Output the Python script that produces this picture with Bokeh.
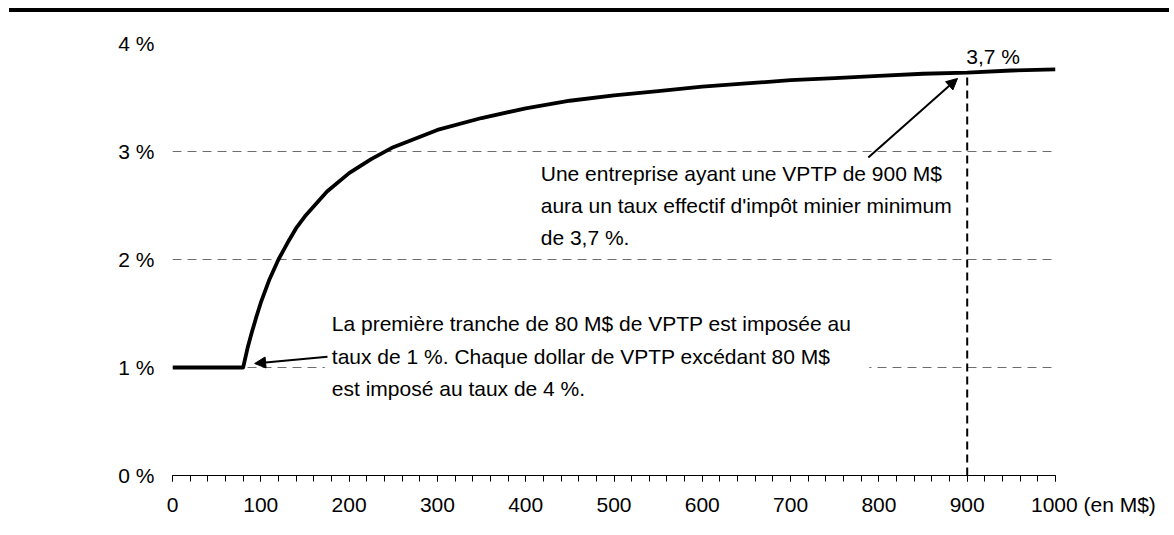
from bokeh.plotting import figure
from bokeh.models import (Range1d, FixedTicker, Label, Arrow, NormalHead, Div, Column)
from bokeh.embed import file_html
from bokeh.resources import INLINE

# Data: VPTP (M$) vs effective minimum mining-tax rate (%)
vptp = [0, 80, 85, 90, 95, 100, 110, 120, 130, 140, 150, 175, 200, 225, 250,
        300, 350, 400, 450, 500, 550, 600, 650, 700, 750, 800, 850, 900, 950, 1000]
taux = [1.00, 1.00, 1.18, 1.33, 1.47, 1.60, 1.82, 2.00, 2.15, 2.29, 2.40, 2.63, 2.80,
        2.93, 3.04, 3.20, 3.31, 3.40, 3.47, 3.52, 3.56, 3.60, 3.63, 3.66, 3.68,
        3.70, 3.72, 3.73, 3.75, 3.76]
x_ticks = [0, 100, 200, 300, 400, 500, 600, 700, 800, 900, 1000]
x_minor = list(range(0, 1001, 20))
y_ticks = [0, 1, 2, 3, 4]
y_labels = {0: "0 %", 1: "1 %", 2: "2 %", 3: "3 %", 4: "4 %"}
unit_label = "(en M$)"
x_labels = {1000: "\u00a0" * 13 + "1000 " + unit_label}
point_x = 900
point_y = taux[vptp.index(900)]
point_label = "3,7 %"
note_low = ("La première tranche de 80 M$ de VPTP est imposée au\n"
            "taux de 1 %. Chaque dollar de VPTP excédant 80 M$\n"
            "est imposé au taux de 4 %.")
note_high = ("Une entreprise ayant une VPTP de 900 M$\n"
             "aura un taux effectif d'impôt minier minimum\n"
             "de 3,7 %.")

FONT = "Liberation Sans"
FS = "21px"

p = figure(width=1166, height=515, output_backend="svg", toolbar_location=None,
           x_range=Range1d(0, 1000), y_range=Range1d(0, 4),
           min_border_left=172, min_border_right=111,
           min_border_top=31, min_border_bottom=52)
p.outline_line_color = None
p.background_fill_color = "white"
p.border_fill_color = "white"

# grid
p.xgrid.visible = False
p.ygrid.ticker = FixedTicker(ticks=[1, 2, 3, 4])
p.ygrid.grid_line_color = "#6e6e6e"
p.ygrid.grid_line_dash = "9 6"
p.ygrid.grid_line_width = 1

# x axis
p.xaxis.ticker = FixedTicker(ticks=x_ticks, minor_ticks=x_minor)
p.xaxis.major_label_overrides = x_labels
p.xaxis.axis_line_color = "black"
p.xaxis.major_tick_line_color = "black"
p.xaxis.minor_tick_line_color = "black"
p.xaxis.major_tick_in = 0
p.xaxis.major_tick_out = 6
p.xaxis.minor_tick_in = 0
p.xaxis.minor_tick_out = 6
p.xaxis.major_label_text_font = FONT
p.xaxis.major_label_text_font_size = FS
p.xaxis.major_label_text_color = "black"
p.xaxis.major_label_standoff = 11

# y axis
p.yaxis.ticker = FixedTicker(ticks=y_ticks)
p.yaxis.major_label_overrides = y_labels
p.yaxis.axis_line_color = None
p.yaxis.major_tick_line_color = None
p.yaxis.minor_tick_line_color = None
p.yaxis.major_tick_in = 0
p.yaxis.major_tick_out = 0
p.yaxis.minor_tick_in = 0
p.yaxis.minor_tick_out = 0
p.yaxis.major_label_text_font = FONT
p.yaxis.major_label_text_font_size = FS
p.yaxis.major_label_text_color = "black"
p.yaxis.major_label_standoff = 18

# vertical dashed marker at 900
p.segment(x0=[point_x], y0=[0], x1=[point_x], y1=[point_y],
          line_color="black", line_width=2, line_dash="8 5")

# curve
p.line(vptp, taux, line_color="black", line_width=3.8, line_join="round")

# annotations
p.add_layout(Label(x=172.5, y=1.105, text=note_low, text_font=FONT, text_font_size=FS,
                   text_color="black", text_baseline="middle", text_align="left",
                   text_line_height=1.40, background_fill_color="white",
                   padding=(7, 18, 7, 7)))
p.add_layout(Label(x=417, y=2.50, text=note_high, text_font=FONT, text_font_size=FS,
                   text_color="black", text_baseline="middle", text_align="left",
                   text_line_height=1.40))
p.add_layout(Label(x=point_x, y=point_y, y_offset=16, x_offset=-1, text=point_label,
                   text_font=FONT, text_font_size=FS, text_color="black",
                   text_baseline="middle", text_align="left"))

p.add_layout(Arrow(end=NormalHead(size=11, fill_color="black", line_color="black"),
                   x_start=175.5, y_start=1.10, x_end=93, y_end=1.037,
                   line_color="black", line_width=2))
p.add_layout(Arrow(end=NormalHead(size=11, fill_color="black", line_color="black"),
                   x_start=788, y_start=2.944, x_end=889, y_end=3.676,
                   line_color="black", line_width=2))

bar = Div(text="", width=1160, height=4, margin=(8, 0, 0, 9),
          styles={"background-color": "black"})
layout = Column(bar, p, spacing=0)

open("out.html", "w").write(file_html(layout, INLINE))
